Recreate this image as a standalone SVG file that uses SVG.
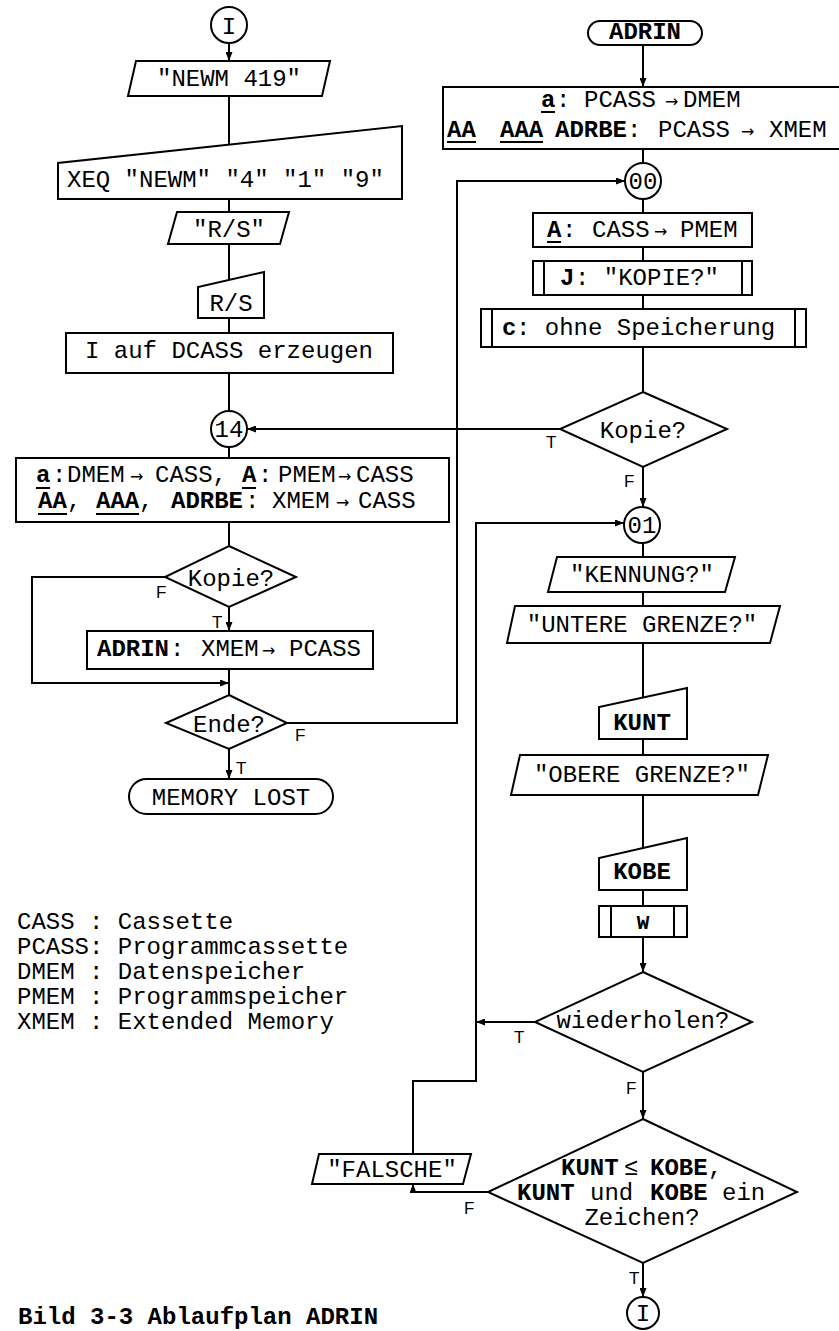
<svg xmlns="http://www.w3.org/2000/svg" width="839" height="1331" viewBox="0 0 839 1331">
  <style>
    .shape { fill: #fff; stroke: #000; stroke-width: 2; }
    .bar { fill: none; stroke: #000; stroke-width: 2; }
    .wire { fill: none; stroke: #000; stroke-width: 2; }
    .t { font-family: "Liberation Mono", "DejaVu Sans Mono", monospace; font-size: 24px; fill: #000; }
    .c { text-anchor: middle; }
    .b { font-weight: bold; }
    .arr { font-family: "DejaVu Sans", sans-serif; font-size: 16px; }
    .lbl { font-family: "Liberation Sans", "DejaVu Sans", sans-serif; font-size: 17px; fill: #000; }
    .ul { stroke: #000; stroke-width: 2; }
  </style>
  <defs>
    <marker id="ah" markerUnits="userSpaceOnUse" markerWidth="9" markerHeight="7" refX="9" refY="3.5" orient="auto">
      <path d="M0,0 L9,3.5 L0,7 z" fill="#000"/>
    </marker>
  </defs>

  <rect width="839" height="1331" fill="#fff"/>

  <!-- connectors -->
  <g id="connectors">
    <line class="wire" x1="229" y1="43" x2="229" y2="61" marker-end="url(#ah)"/>
    <line class="wire" x1="229" y1="96" x2="229" y2="145"/>
    <line class="wire" x1="229" y1="199" x2="229" y2="212"/>
    <line class="wire" x1="229" y1="244" x2="229" y2="280"/>
    <line class="wire" x1="229" y1="318" x2="229" y2="333"/>
    <line class="wire" x1="229" y1="373" x2="229" y2="411"/>
    <line class="wire" x1="229" y1="447" x2="229" y2="458"/>
    <line class="wire" x1="229" y1="522" x2="229" y2="546"/>
    <line class="wire" x1="229" y1="607" x2="229" y2="631" marker-end="url(#ah)"/>
    <polyline class="wire" points="165,577 32,577 32,683 229,683" marker-end="url(#ah)"/>
    <line class="wire" x1="229" y1="669" x2="229" y2="695"/>
    <line class="wire" x1="229" y1="749" x2="229" y2="779" marker-end="url(#ah)"/>
    <polyline class="wire" points="287,723 457,723 457,181 625,181" marker-end="url(#ah)"/>

    <line class="wire" x1="643" y1="45" x2="643" y2="87" marker-end="url(#ah)"/>
    <line class="wire" x1="643" y1="149" x2="643" y2="163"/>
    <line class="wire" x1="643" y1="199" x2="643" y2="213"/>
    <line class="wire" x1="643" y1="247" x2="643" y2="261"/>
    <line class="wire" x1="643" y1="295" x2="643" y2="309"/>
    <line class="wire" x1="643" y1="347" x2="643" y2="392"/>
    <line class="wire" x1="560" y1="429" x2="247" y2="429" marker-end="url(#ah)"/>
    <line class="wire" x1="643" y1="467" x2="643" y2="507" marker-end="url(#ah)"/>
    <line class="wire" x1="643" y1="543" x2="643" y2="557"/>
    <line class="wire" x1="643" y1="592" x2="643" y2="606"/>
    <line class="wire" x1="643" y1="643" x2="643" y2="698"/>
    <line class="wire" x1="643" y1="739" x2="643" y2="755"/>
    <line class="wire" x1="643" y1="795" x2="643" y2="848"/>
    <line class="wire" x1="643" y1="890" x2="643" y2="906"/>
    <line class="wire" x1="643" y1="937" x2="643" y2="972" marker-end="url(#ah)"/>
    <line class="wire" x1="643" y1="1072" x2="643" y2="1119" marker-end="url(#ah)"/>
    <line class="wire" x1="535" y1="1022" x2="476" y2="1022" marker-end="url(#ah)"/>
    <polyline class="wire" points="488,1192 413,1192 413,1184" marker-end="url(#ah)"/>
    <polyline class="wire" points="413,1154 413,1081 476,1081 476,523 624,523" marker-end="url(#ah)"/>
    <line class="wire" x1="643" y1="1263" x2="643" y2="1297" marker-end="url(#ah)"/>
  </g>

  <!-- left column -->
  <g id="conn-I-top">
    <circle class="shape" cx="229" cy="25" r="18"/>
    <text class="t c" x="229" y="34">I</text>
  </g>
  <g id="out-newm">
    <polygon class="shape" points="136,61 330,61 322,96 128,96"/>
    <text class="t c" x="229" y="86">"NEWM 419"</text>
  </g>
  <g id="in-xeq">
    <polygon class="shape" points="58,199 58,163 402,126 402,199"/>
    <text class="t" x="67" y="187">XEQ "NEWM" "4" "1" "9"</text>
  </g>
  <g id="out-rs">
    <polygon class="shape" points="177,212 289,212 280,244 168,244"/>
    <text class="t c" x="229" y="237">"R/S"</text>
  </g>
  <g id="in-rs">
    <polygon class="shape" points="198,318 198,287 264,272 264,318"/>
    <text class="t c" x="231" y="311">R/S</text>
  </g>
  <g id="proc-dcass">
    <rect class="shape" x="66" y="333" width="327" height="40"/>
    <text class="t c" x="229" y="358">I auf DCASS erzeugen</text>
  </g>
  <g id="conn-14">
    <circle class="shape" cx="229" cy="429" r="18"/>
    <text class="t c" x="229" y="437">14</text>
  </g>
  <g id="proc-save">
    <rect class="shape" x="16" y="458" width="433" height="64"/>
    <text class="t" y="482"><tspan class="b" x="36">a</tspan><tspan x="52">:</tspan><tspan x="67">DMEM</tspan><tspan class="arr" x="130">→</tspan><tspan x="155">CASS,</tspan><tspan class="b" x="242">A</tspan><tspan x="258">:</tspan><tspan x="278">PMEM</tspan><tspan class="arr" x="338">→</tspan><tspan x="356">CASS</tspan></text>
    <text class="t" y="508"><tspan class="b" x="38">AA</tspan><tspan x="67">,</tspan><tspan class="b" x="96">AAA</tspan><tspan x="139">,</tspan><tspan class="b" x="171">ADRBE</tspan><tspan x="245">:</tspan><tspan x="272">XMEM</tspan><tspan class="arr" x="336">→</tspan><tspan x="358">CASS</tspan></text>
    <line class="ul" x1="36" y1="488" x2="50" y2="488"/>
    <line class="ul" x1="242" y1="488" x2="256" y2="488"/>
    <line class="ul" x1="38" y1="514" x2="67" y2="514"/>
    <line class="ul" x1="96" y1="514" x2="139" y2="514"/>
  </g>
  <g id="dec-kopie-left">
    <polygon class="shape" points="229,546 296,577 229,607 165,577"/>
    <text class="t c" x="231" y="586">Kopie?</text>
    <text class="lbl" x="156" y="598">F</text>
    <text class="lbl" x="212" y="628">T</text>
  </g>
  <g id="proc-adrin-xmem">
    <rect class="shape" x="87" y="631" width="286" height="38"/>
    <text class="t" y="656"><tspan class="b" x="97">ADRIN</tspan><tspan x="170">:</tspan><tspan x="201">XMEM</tspan><tspan class="arr" x="262">→</tspan><tspan x="289">PCASS</tspan></text>
  </g>
  <g id="dec-ende">
    <polygon class="shape" points="229,695 287,723 229,749 166,723"/>
    <text class="t c" x="229" y="732">Ende?</text>
    <text class="lbl" x="295" y="741">F</text>
    <text class="lbl" x="236" y="774">T</text>
  </g>
  <g id="term-memory-lost">
    <rect class="shape" x="129" y="779" width="204" height="35" rx="17.5"/>
    <text class="t c" x="231" y="805">MEMORY LOST</text>
  </g>

  <!-- right column -->
  <g id="term-adrin">
    <rect class="shape" x="588" y="21" width="114" height="24" rx="12"/>
    <text class="t c b" x="645" y="39">ADRIN</text>
  </g>
  <g id="proc-load">
    <path class="bar" d="M839,87 H443 V149 H839"/>
    <text class="t" y="107"><tspan class="b" x="541">a</tspan><tspan x="556">:</tspan><tspan x="584">PCASS</tspan><tspan class="arr" x="665">→</tspan><tspan x="683">DMEM</tspan></text>
    <text class="t" y="137"><tspan class="b" x="447">AA</tspan><tspan class="b" x="500">AAA</tspan><tspan class="b" x="555">ADRBE</tspan><tspan x="627">:</tspan><tspan x="658">PCASS</tspan><tspan class="arr" x="741">→</tspan><tspan x="769">XMEM</tspan></text>
    <line class="ul" x1="541" y1="112" x2="555" y2="112"/>
    <line class="ul" x1="447" y1="142" x2="476" y2="142"/>
    <line class="ul" x1="500" y1="142" x2="543" y2="142"/>
  </g>
  <g id="conn-00">
    <circle class="shape" cx="643" cy="181" r="18"/>
    <text class="t c" x="643" y="189">00</text>
  </g>
  <g id="proc-pmem">
    <rect class="shape" x="533" y="213" width="219" height="34"/>
    <text class="t" y="237"><tspan class="b" x="547">A</tspan><tspan x="562">:</tspan><tspan x="592">CASS</tspan><tspan class="arr" x="654">→</tspan><tspan x="680">PMEM</tspan></text>
    <line class="ul" x1="547" y1="242" x2="561" y2="242"/>
  </g>
  <g id="sub-kopie">
    <rect class="shape" x="533" y="261" width="219" height="34"/>
    <line class="bar" x1="544" y1="261" x2="544" y2="295"/>
    <line class="bar" x1="742" y1="261" x2="742" y2="295"/>
    <text class="t" y="285"><tspan class="b" x="560">J</tspan><tspan x="575">: "KOPIE?"</tspan></text>
  </g>
  <g id="sub-ohne">
    <rect class="shape" x="481" y="309" width="325" height="38"/>
    <line class="bar" x1="492" y1="309" x2="492" y2="347"/>
    <line class="bar" x1="795" y1="309" x2="795" y2="347"/>
    <text class="t" y="335"><tspan class="b" x="502">c</tspan><tspan x="516">: ohne Speicherung</tspan></text>
  </g>
  <g id="dec-kopie-right">
    <polygon class="shape" points="643,392 727,429 643,467 560,429"/>
    <text class="t c" x="643" y="438">Kopie?</text>
    <text class="lbl" x="546" y="448">T</text>
    <text class="lbl" x="624" y="487">F</text>
  </g>
  <g id="conn-01">
    <circle class="shape" cx="642" cy="525" r="18"/>
    <text class="t c" x="642" y="533">01</text>
  </g>
  <g id="out-kennung">
    <polygon class="shape" points="557,557 735,557 725,592 548,592"/>
    <text class="t c" x="642" y="582">"KENNUNG?"</text>
  </g>
  <g id="out-untere">
    <polygon class="shape" points="515,606 780,606 770,643 507,643"/>
    <text class="t c" x="642" y="632">"UNTERE GRENZE?"</text>
  </g>
  <g id="in-kunt">
    <polygon class="shape" points="599,739 599,707 687,688 687,739"/>
    <text class="t c b" x="642" y="730">KUNT</text>
  </g>
  <g id="out-obere">
    <polygon class="shape" points="520,755 768,755 758,795 511,795"/>
    <text class="t c" x="642" y="782">"OBERE GRENZE?"</text>
  </g>
  <g id="in-kobe">
    <polygon class="shape" points="599,890 599,858 687,838 687,890"/>
    <text class="t c b" x="642" y="879">KOBE</text>
  </g>
  <g id="sub-w">
    <rect class="shape" x="599" y="906" width="88" height="31"/>
    <line class="bar" x1="611" y1="906" x2="611" y2="937"/>
    <line class="bar" x1="674" y1="906" x2="674" y2="937"/>
    <text class="t c b" x="643" y="929" style="font-size:21px">W</text>
  </g>
  <g id="dec-wiederholen">
    <polygon class="shape" points="643,972 752,1022 643,1072 535,1022"/>
    <text class="t c" x="643" y="1028">wiederholen?</text>
    <text class="lbl" x="514" y="1043">T</text>
    <text class="lbl" x="626" y="1094">F</text>
  </g>
  <g id="dec-grenzen">
    <polygon class="shape" points="643,1119 797,1192 643,1263 488,1192"/>
    <text class="t" y="1175"><tspan class="b" x="561">KUNT</tspan><tspan x="624">≤</tspan><tspan class="b" x="650">KOBE</tspan><tspan x="708">,</tspan></text>
    <text class="t" y="1200"><tspan class="b" x="517">KUNT</tspan><tspan x="590">und</tspan><tspan class="b" x="650">KOBE</tspan><tspan x="722">ein</tspan></text>
    <text class="t c" x="642" y="1225">Zeichen?</text>
    <text class="lbl" x="464" y="1214">F</text>
    <text class="lbl" x="629" y="1284">T</text>
  </g>
  <g id="out-falsche">
    <polygon class="shape" points="319,1154 471,1154 463,1184 312,1184"/>
    <text class="t c" x="392" y="1177">"FALSCHE"</text>
  </g>
  <g id="conn-I-bottom">
    <circle class="shape" cx="643" cy="1313" r="16"/>
    <text class="t c" x="643" y="1321">I</text>
  </g>

  <!-- legend and caption -->
  <g id="legend">
    <text class="t" x="17" y="929" xml:space="preserve">CASS : Cassette</text>
    <text class="t" x="17" y="954">PCASS: Programmcassette</text>
    <text class="t" x="17" y="979" xml:space="preserve">DMEM : Datenspeicher</text>
    <text class="t" x="17" y="1004" xml:space="preserve">PMEM : Programmspeicher</text>
    <text class="t" x="17" y="1029" xml:space="preserve">XMEM : Extended Memory</text>
  </g>
  <g id="caption">
    <text class="t b" x="18" y="1324">Bild 3-3 Ablaufplan ADRIN</text>
  </g>
</svg>
